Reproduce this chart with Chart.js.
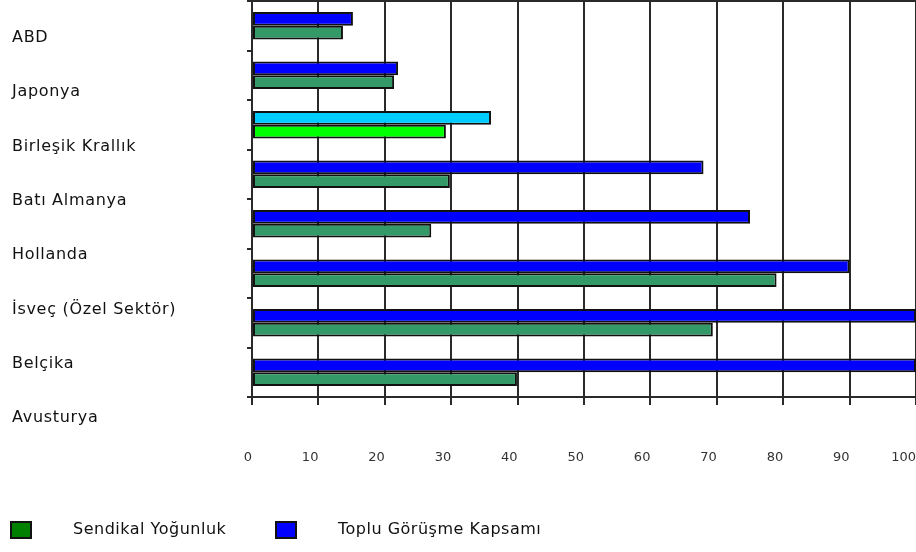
<!DOCTYPE html>
<html>
<head>
<meta charset="utf-8">
<script src="https://cdn.jsdelivr.net/npm/chart.js@4"></script>
<style>
  body { margin: 0; background: #fff; }
  #wrap { position: relative; width: 916px; height: 552px; overflow: hidden; font-family: 'Comic Sans MS', 'DejaVu Sans', sans-serif; color: #111; }
  #chart-box { position: absolute; left: 0; top: 0; }
  .cat { position: absolute; left: 12px; font-size: 16px; letter-spacing: 0.7px; line-height: 20px; white-space: nowrap; }
  .key-box { position: absolute; width: 18px; height: 14px; border: 2px solid #111; top: 521px; }
  .key-text { position: absolute; top: 519px; font-size: 16px; letter-spacing: 0.5px; line-height: 20px; white-space: nowrap; }
</style>
</head>
<body>
<div id="wrap">
  <div id="chart-box"><canvas id="bargaining-chart" width="916" height="480"></canvas></div>
  <div id="labels"></div>
  <div id="legend"></div>
</div>
<script>
// Sendikal yoğunluk / toplu görüşme kapsamı (%)
const countries = ['ABD', 'Japonya', 'Birleşik Krallık', 'Batı Almanya', 'Hollanda', 'İsveç (Özel Sektör)', 'Belçika', 'Avusturya'];
const coverage = [15.2, 22, 36, 68, 75, 90, 100, 100];
const density = [13.7, 21.4, 29.2, 29.8, 27, 79, 69.4, 39.9];
const xTicks = [0, 10, 20, 30, 40, 50, 60, 70, 80, 90, 100];

const coverageColors = countries.map((c, i) => i === 2 ? '#00ccff' : '#0000ff');
const densityColors = countries.map((c, i) => i === 2 ? '#00ff00' : '#339966');

const seriesNames = ['Sendikal Yoğunluk', 'Toplu Görüşme Kapsamı'];
const legendColors = ['#008000', '#0000ff'];

// Country names sit in their own column, spaced a bit wider than the bars
const labelsBox = document.getElementById('labels');
countries.forEach((name, i) => {
    const el = document.createElement('div');
    el.className = 'cat';
    el.textContent = name;
    el.style.top = (27 + i * 54.3) + 'px';
    labelsBox.appendChild(el);
});

const legendBox = document.getElementById('legend');
const legendX = [[10, 73], [275, 338]];
seriesNames.forEach((name, i) => {
    const box = document.createElement('div');
    box.className = 'key-box';
    box.style.left = legendX[i][0] + 'px';
    box.style.background = legendColors[i];
    const txt = document.createElement('div');
    txt.className = 'key-text';
    txt.style.left = legendX[i][1] + 'px';
    txt.textContent = name;
    legendBox.appendChild(box);
    legendBox.appendChild(txt);
});

const lineColor = '#2a2a2a';

new Chart(document.getElementById('bargaining-chart'), {
    type: 'bar',
    data: {
        labels: countries,
        datasets: [
            {
                label: seriesNames[1],
                data: coverage,
                backgroundColor: coverageColors,
                borderColor: '#111',
                borderWidth: 2,
                borderSkipped: false,
                barPercentage: 1,
                categoryPercentage: 0.56
            },
            {
                label: seriesNames[0],
                data: density,
                backgroundColor: densityColors,
                borderColor: '#111',
                borderWidth: 2,
                borderSkipped: false,
                barPercentage: 1,
                categoryPercentage: 0.56
            }
        ]
    },
    options: {
        indexAxis: 'y',
        responsive: false,
        animation: false,
        events: [],
        layout: { padding: 0 },
        plugins: {
            legend: { display: false },
            tooltip: { enabled: false }
        },
        scales: {
            x: {
                type: 'linear',
                position: 'bottom',
                min: 0,
                max: 100,
                afterBuildTicks: (scale) => { scale.ticks = xTicks.map(v => ({ value: v })); },
                afterFit: (scale) => {
                    scale.height = 83;
                    scale.paddingLeft = 0;
                    scale.paddingRight = 0;
                },
                grid: { color: lineColor, lineWidth: 2, drawTicks: true, tickLength: 8 },
                border: { display: true, color: lineColor, width: 2 },
                ticks: {
                    align: 'end',
                    padding: 45,
                    color: '#333',
                    font: { family: 'DejaVu Sans', size: 13 }
                }
            },
            xTop: {
                type: 'linear',
                position: 'top',
                min: 0,
                max: 100,
                afterFit: (scale) => { scale.height = 1; },
                grid: { display: false },
                border: { display: true, color: lineColor, width: 2 },
                ticks: { display: false }
            },
            y: {
                type: 'category',
                position: 'left',
                afterFit: (scale) => { scale.width = 252; },
                grid: { offset: true, drawOnChartArea: false, drawTicks: true, tickLength: 5, color: lineColor, lineWidth: 2 },
                border: { display: true, color: lineColor, width: 2 },
                ticks: { display: false }
            }
        }
    }
});
</script>
</body>
</html>
